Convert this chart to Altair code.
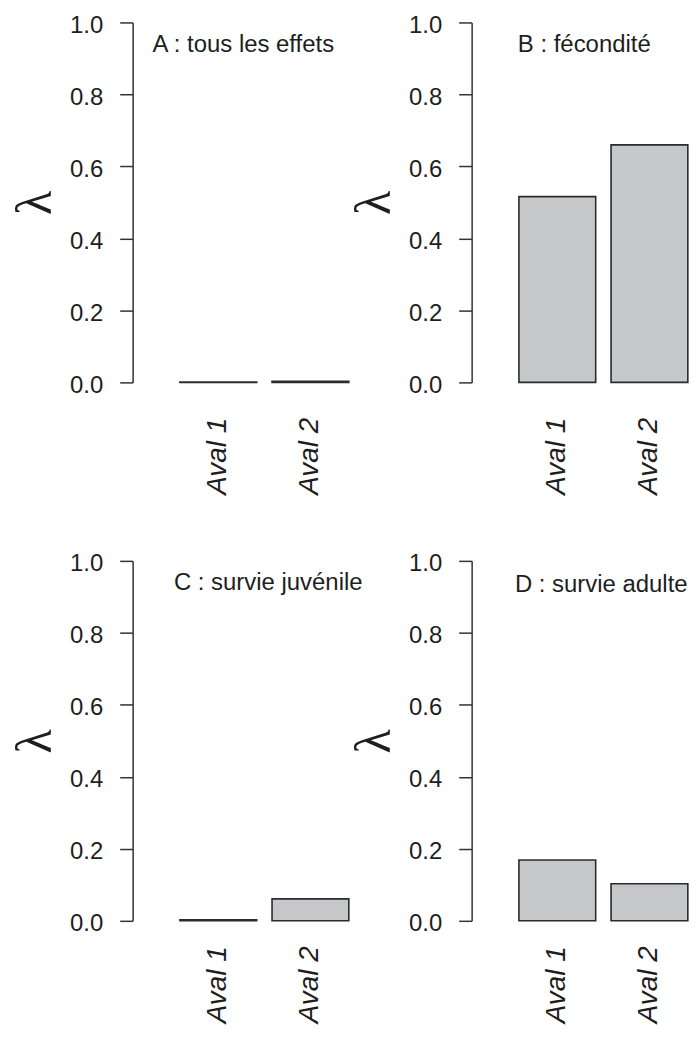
import altair as alt
import pandas as pd

# ---- data ----
categories = ["Aval 1", "Aval 2"]
panel_labels = ["A : tous les effets", "B : fécondité", "C : survie juvénile", "D : survie adulte"]
values_A = [0.001, 0.003]
values_B = [0.516, 0.660]
values_C = [0.003, 0.061]
values_D = [0.169, 0.103]
y_ticks = [0.0, 0.2, 0.4, 0.6, 0.8, 1.0]

# ---- layout (pixels) for the in-panel labels and the category labels ----
label_layout = [(111, 30), (113, 30), (136, 29), (130, 31)]
x_label_pad = [35, 35, 25, 25]

FONT = "Liberation Sans"
INK = "#1e1e1e"
W = 219
H = 361


def panel(values, label, lx, ly, lpad):
    df = pd.DataFrame({"cat": categories, "val": values})
    bars = alt.Chart(df).mark_bar(
        color="#c6c7c9", stroke="#2b2b2b", strokeWidth=1.6
    ).encode(
        x=alt.X(
            "cat:N",
            sort=categories,
            title=None,
            scale=alt.Scale(paddingInner=0.1667, paddingOuter=0.2684, align=0.956),
            axis=alt.Axis(
                labelAngle=-90,
                labelFontStyle="italic",
                labelFontSize=28,
                domain=False,
                ticks=False,
                labelPadding=lpad,
            ),
        ),
        y=alt.Y(
            "val:Q",
            scale=alt.Scale(domain=[0, 1], nice=False, zero=True),
            axis=alt.Axis(
                values=y_ticks,
                format=".1f",
                title="λ",
                titleFont="Liberation Serif",
                titleFontSize=50,
                titleFontWeight="normal",
                titleColor=INK,
                titlePadding=9,
                tickSize=13,
                labelPadding=17,
                labelOffset=3,
                grid=False,
            ),
        ),
    )
    txt = alt.Chart(pd.DataFrame({"t": [label]})).mark_text(
        align="center", baseline="alphabetic", fontSize=24, font=FONT, color=INK
    ).encode(text="t:N", x=alt.value(lx), y=alt.value(ly))
    return alt.layer(bars, txt).properties(width=W, height=H)


panels = [
    panel(v, lab, pos[0], pos[1], lp)
    for v, lab, pos, lp in zip(
        [values_A, values_B, values_C, values_D], panel_labels, label_layout, x_label_pad
    )
]

chart = alt.concat(
    *panels, columns=2, spacing={"row": 179, "column": 121}, bounds="flush"
).properties(
    padding={"left": 2, "top": 4, "right": 0, "bottom": 0}
).configure_view(stroke=None).configure_axis(
    labelFont=FONT,
    labelFontSize=24,
    labelColor=INK,
    tickColor="#333333",
    domainColor="#333333",
    domainWidth=1.5,
    tickWidth=1.5,
)

chart.save("out.html", embed_options={"renderer": "svg", "actions": False})
